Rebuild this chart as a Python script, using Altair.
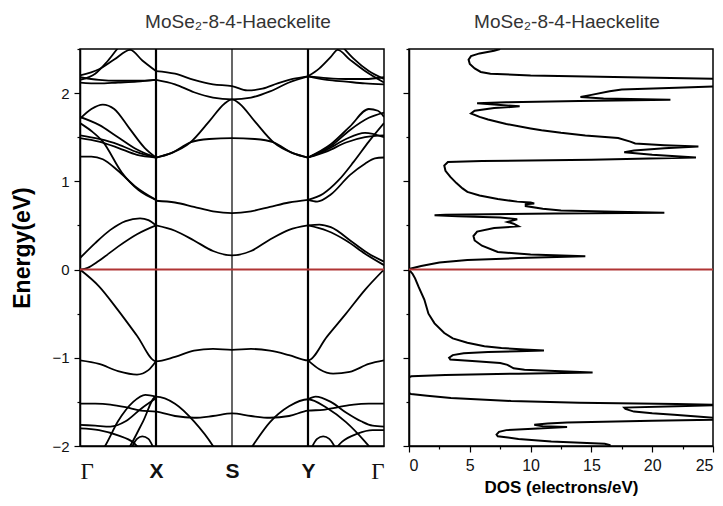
import altair as alt
import pandas as pd

TITLE = "MoSe₂-8-4-Haeckelite"
K_TICKS = [0, 1, 2, 3, 4]
K_NAMES = ["Γ", "X", "S", "Y", "Γ"]
E_TICKS = [-2, -1.5, -1, -0.5, 0, 0.5, 1, 1.5, 2, 2.5]
DOS_TICKS = [0, 2.5, 5, 7.5, 10, 12.5, 15, 17.5, 20, 22.5, 25]
SYM_LINES_K = [1, 2, 3]
SYM_LINES_W = [2.2, 1.2, 2.2]

# ---- bands: (k, E) pairs ----
V1 = [(0, 0.0), (0.25, -0.19), (0.5, -0.46), (0.75, -0.75), (1, -1.04), (1.25, -0.99), (1.5, -0.92),
      (1.75, -0.90), (2, -0.91), (2.25, -0.90), (2.5, -0.92), (2.75, -0.97), (3, -1.03),
      (3.25, -0.76), (3.5, -0.50), (3.75, -0.23), (4, 0.0)]
V2a = [(0, -1.03), (0.25, -1.07), (0.5, -1.15), (0.75, -1.19), (0.9, -1.14), (1, -1.04)]
V2b = [(3, -1.03), (3.15, -1.13), (3.33, -1.18), (3.55, -1.16), (3.8, -1.07), (4, -1.03)]
L1 = [(0, -1.52), (0.2, -1.52), (0.4, -1.53), (0.6, -1.56), (0.8, -1.60), (1, -1.61), (1.25, -1.66),
      (1.5, -1.68), (1.75, -1.66), (2, -1.63), (2.25, -1.66), (2.5, -1.68), (2.75, -1.66), (3, -1.60),
      (3.2, -1.59), (3.4, -1.56), (3.6, -1.53), (3.8, -1.52), (4, -1.52)]
L2 = [(0.2, -2.15), (0.33, -2.0), (0.5, -1.72), (0.7, -1.5), (0.86, -1.42), (1, -1.44)]
L3 = [(0.55, -2.15), (0.66, -2.0), (0.83, -1.72), (1, -1.44), (1.25, -1.52), (1.5, -1.72),
      (1.75, -2.0), (1.85, -2.15)]
L4 = [(0, -1.76), (0.2, -1.77), (0.4, -1.78), (0.6, -1.72), (0.8, -1.58), (1, -1.46)]
L5 = [(0, -1.80), (0.25, -1.82), (0.5, -1.88), (0.7, -1.96), (0.85, -2.1)]
L6 = [(0.66, -2.05), (0.75, -1.92), (0.82, -1.89), (0.9, -1.92), (0.98, -2.05)]
R6 = [(3.03, -2.05), (3.12, -1.92), (3.2, -1.89), (3.28, -1.92), (3.38, -2.05)]
L3r = [(2.15, -2.15), (2.27, -2.0), (2.5, -1.73), (2.75, -1.55), (3, -1.47), (3.25, -1.57),
       (3.5, -1.73), (3.75, -1.95), (3.85, -2.05)]
R2 = [(3, -1.47), (3.1, -1.44), (3.3, -1.50), (3.5, -1.62), (3.7, -1.72), (3.85, -1.77), (4, -1.78)]
R4 = [(3.3, -2.1), (3.45, -1.95), (3.65, -1.86), (3.85, -1.82), (4, -1.82)]
C1a = [(0, 0.0), (0.1, 0.02), (0.25, 0.10), (0.5, 0.26), (0.75, 0.40), (1, 0.50)]
C1b = [(0, 0.13), (0.2, 0.30), (0.4, 0.45), (0.6, 0.55), (0.79, 0.58), (0.9, 0.56), (1, 0.50)]
C1 = [(1, 0.50), (1.25, 0.44), (1.5, 0.33), (1.75, 0.21), (2, 0.16), (2.25, 0.21), (2.5, 0.34),
      (2.75, 0.45), (3, 0.50)]
C1c = [(3, 0.50), (3.25, 0.44), (3.5, 0.33), (3.75, 0.18), (4, 0.05)]
C1d = [(3, 0.50), (3.15, 0.51), (3.3, 0.48), (3.6, 0.30), (3.8, 0.18), (4, 0.09)]
C2 = [(1, 0.78), (1.25, 0.76), (1.5, 0.71), (1.75, 0.66), (2, 0.64), (2.25, 0.66), (2.5, 0.71),
      (2.75, 0.76), (3, 0.79)]
G2 = [(0, 1.66), (0.15, 1.57), (0.3, 1.45), (0.55, 1.10), (0.77, 0.90), (1, 0.79)]
G5 = [(0, 1.28), (0.15, 1.28), (0.3, 1.25), (0.5, 1.12), (0.73, 0.94), (1, 0.79)]
Rb1 = [(3, 0.79), (3.2, 0.86), (3.4, 1.01), (3.6, 1.22), (3.8, 1.45), (4, 1.66)]
Rb2 = [(3, 0.79), (3.12, 0.77), (3.3, 0.85), (3.55, 1.07), (3.75, 1.20), (3.88, 1.26), (4, 1.27)]
G1 = [(0, 1.71), (0.15, 1.82), (0.3, 1.87), (0.45, 1.82), (0.65, 1.6), (0.85, 1.38), (1, 1.27)]
G3 = [(0, 1.52), (0.25, 1.48), (0.5, 1.42), (0.75, 1.33), (1, 1.27)]
G4 = [(0, 1.49), (0.25, 1.45), (0.5, 1.38), (0.75, 1.30), (1, 1.27)]
G6 = [(0, 1.73), (0.25, 1.64), (0.5, 1.50), (0.75, 1.36), (1, 1.27)]
XSYup = [(1, 1.27), (1.2, 1.32), (1.45, 1.44), (1.7, 1.68), (1.9, 1.88), (2, 1.93), (2.1, 1.88),
         (2.3, 1.68), (2.55, 1.44), (2.8, 1.32), (3, 1.27)]
XSYflat = [(1, 1.27), (1.2, 1.32), (1.45, 1.44), (1.7, 1.48), (2, 1.49), (2.3, 1.48), (2.55, 1.44),
           (2.8, 1.32), (3, 1.27)]
Rc1 = [(3, 1.27), (3.25, 1.34), (3.5, 1.44), (3.75, 1.50), (4, 1.52)]
Rc2 = [(3, 1.27), (3.25, 1.36), (3.5, 1.48), (3.75, 1.55), (4, 1.50)]
Rc3 = [(3, 1.27), (3.3, 1.42), (3.55, 1.62), (3.8, 1.82), (3.92, 1.80), (4, 1.73)]
Rc4 = [(3, 1.27), (3.3, 1.40), (3.55, 1.58), (3.8, 1.72), (4, 1.78)]
U1 = [(1, 2.25), (1.25, 2.22), (1.5, 2.15), (1.75, 2.10), (2, 2.08), (2.2, 2.03), (2.4, 2.05),
      (2.6, 2.11), (2.8, 2.16), (3, 2.19)]
U2 = [(1, 2.15), (1.25, 2.10), (1.5, 2.01), (1.75, 1.95), (2, 1.93), (2.25, 1.95), (2.5, 2.02),
      (2.75, 2.12), (3, 2.19)]
T1 = [(0, 2.15), (0.2, 2.22), (0.35, 2.35), (0.49, 2.5), (0.55, 2.56)]
T2 = [(0, 2.20), (0.25, 2.27), (0.45, 2.38), (0.66, 2.49), (0.82, 2.37), (1, 2.25)]
F1 = [(0, 2.18), (0.25, 2.15), (0.5, 2.14), (0.75, 2.14), (1, 2.15)]
F2 = [(0, 2.12), (0.25, 2.11), (0.5, 2.12), (0.75, 2.13), (1, 2.15)]
RT1 = [(3, 2.19), (3.15, 2.28), (3.3, 2.41), (3.39, 2.49), (3.55, 2.38), (3.75, 2.25), (4, 2.12)]
RT2 = [(3.42, 2.56), (3.6, 2.39), (3.8, 2.25), (4, 2.16)]
RF1 = [(3, 2.19), (3.25, 2.15), (3.5, 2.13), (3.75, 2.11), (4, 2.10)]
RF2 = [(3, 2.19), (3.25, 2.17), (3.5, 2.16), (3.75, 2.16), (4, 2.18)]

BANDS = {"V1": V1, "V2a": V2a, "V2b": V2b, "L1": L1, "L2": L2, "L3": L3, "L4": L4, "L5": L5,
         "L6": L6, "R6": R6, "L3r": L3r, "R2": R2, "R4": R4, "C1a": C1a, "C1b": C1b, "C1": C1,
         "C1c": C1c, "C1d": C1d, "C2": C2, "G2": G2, "G5": G5, "Rb1": Rb1, "Rb2": Rb2, "G1": G1,
         "G3": G3, "G4": G4, "G6": G6, "XSYup": XSYup, "XSYflat": XSYflat, "Rc1": Rc1, "Rc2": Rc2,
         "Rc3": Rc3, "Rc4": Rc4, "U1": U1, "U2": U2, "T1": T1, "T2": T2, "F1": F1, "F2": F2,
         "RT1": RT1, "RT2": RT2, "RF1": RF1, "RF2": RF2}

# ---- density of states (E, DOS), top to bottom ----
DOS_E = [2.50, 2.48, 2.45, 2.42, 2.38, 2.33, 2.28, 2.24, 2.22, 2.20, 2.18, 2.16, 2.12, 2.08, 2.06,
         2.04, 2.02, 1.98, 1.955, 1.94, 1.925, 1.91, 1.895, 1.885, 1.87, 1.85, 1.83, 1.80, 1.77,
         1.73, 1.70, 1.65, 1.60, 1.58, 1.55, 1.52, 1.49, 1.45, 1.43, 1.41, 1.395, 1.375, 1.35,
         1.33, 1.30, 1.27, 1.245, 1.23, 1.22, 1.18, 1.12, 1.05, 0.98, 0.92, 0.88, 0.84, 0.80, 0.77,
         0.76, 0.75, 0.74, 0.72, 0.69, 0.67, 0.655, 0.645, 0.635, 0.62, 0.615, 0.605, 0.59, 0.57,
         0.555, 0.54, 0.52, 0.49, 0.47, 0.43, 0.38, 0.33, 0.27, 0.20, 0.17, 0.15, 0.13, 0.107,
         0.08, 0.04, 0.01, 0.0, -0.05, -0.10, -0.20, -0.34, -0.50, -0.61, -0.72, -0.78, -0.83,
         -0.87, -0.89, -0.905, -0.917, -0.925, -0.935, -0.95, -0.97, -1.0, -1.02, -1.04, -1.06,
         -1.08, -1.12, -1.135, -1.15, -1.166, -1.18, -1.195, -1.21, -1.22, -1.40, -1.41, -1.43,
         -1.455, -1.49, -1.51, -1.525, -1.535, -1.55, -1.565, -1.58, -1.61, -1.63, -1.645, -1.665,
         -1.685, -1.70, -1.715, -1.735, -1.745, -1.76, -1.775, -1.785, -1.80, -1.82, -1.84, -1.87,
         -1.89, -1.92, -1.95, -1.975, -1.99, -2.0]
DOS_V = [7.5, 7.0, 5.8, 5.1, 4.9, 5.0, 5.4, 5.9, 6.7, 10.0, 18.0, 26.0, 27.0, 26.0, 22.0,
         17.5, 16.5, 15.0, 14.1, 16.0, 21.5, 14.0, 8.0, 5.6, 7.0, 9.1, 7.0, 5.4, 5.1,
         5.8, 6.5, 8.0, 10.0, 10.9, 12.5, 14.5, 17.2, 18.2, 18.6, 21.0, 23.8, 21.0, 18.5,
         17.7, 20.0, 23.6, 15.0, 6.0, 3.2, 2.9, 3.0, 3.4, 3.9, 4.4, 4.8, 5.8, 7.3, 8.9,
         10.0, 10.3, 9.6, 9.6, 11.0, 12.5, 17.0, 21.0, 12.0, 3.0, 2.1, 4.0, 7.5, 8.9,
         8.5, 8.1, 8.6, 9.0, 7.0, 5.6, 5.3, 5.4, 6.0, 7.3, 10.0, 14.5, 9.0, 4.8,
         2.5, 1.0, 0.1, 0.0, 0.3, 0.5, 0.8, 1.26, 1.6, 2.1, 2.9, 3.6, 4.8,
         6.2, 7.6, 9.5, 11.1, 9.0, 6.5, 4.5, 3.6, 3.3, 3.4, 5.5, 7.5,
         8.1, 8.6, 9.5, 12.0, 15.1, 9.0, 3.0, 0.2, 0.0, 0.0, 0.16, 1.5,
         3.45, 8.4, 14.0, 22.0, 26.0, 22.0, 17.7, 17.8, 18.5, 20.0, 21.8, 23.7,
         25.5, 25.5, 20.0, 13.0, 11.4, 10.3, 11.0, 13.0, 11.0, 8.0, 7.4, 7.2,
         7.3, 9.0, 11.7, 16.1, 16.5, 16.5]

rows = []
for name, pts in BANDS.items():
    for i, (k, e) in enumerate(pts):
        rows.append({"band": name, "k": k, "E": e, "i": i})
band_df = pd.DataFrame(rows)
dos_df = pd.DataFrame({"E": DOS_E, "dos": DOS_V, "i": list(range(len(DOS_E)))})
sym_df = pd.DataFrame({"k": SYM_LINES_K, "w": SYM_LINES_W})
zero_df = pd.DataFrame({"E": [0.0]})

SANS = "Liberation Sans"
RED = "#b03434"
END = "datum.value == 0 || datum.value == 4"

names_js = "[" + ",".join("'" + n + "'" for n in K_NAMES) + "]"

y_left = alt.Y(
    "E:Q",
    scale=alt.Scale(domain=[-2, 2.5], nice=False, zero=False),
    axis=alt.Axis(
        values=E_TICKS,
        labelExpr="datum.value % 1 == 0 ? format(datum.value, 'd') : ''",
        tickSize={"condition": {"test": "datum.value % 1 != 0", "value": 3}, "value": 6},
        title="Energy(eV)", titleFontSize=23, titleFontWeight="bold", titleFont=SANS,
        titlePadding=17, labelFontSize=15, labelPadding=5, labelFont=SANS,
    ),
)
x_k = alt.X(
    "k:Q",
    scale=alt.Scale(domain=[0, 4], nice=False, zero=False),
    axis=alt.Axis(
        values=K_TICKS,
        labelExpr=names_js + "[round(datum.value)]",
        ticks=False, labelPadding=14, labelFlush=True,
        labelFont={"condition": {"test": END, "value": "Liberation Serif"}, "value": SANS},
        labelFontWeight={"condition": {"test": END, "value": "normal"}, "value": "bold"},
        labelFontSize={"condition": {"test": END, "value": 23}, "value": 21},
        title=None,
    ),
)

sym = alt.Chart(sym_df).mark_rule(color="black").encode(
    x=x_k, strokeWidth=alt.StrokeWidth("w:Q", scale=None)
)
bands = alt.Chart(band_df).mark_line(
    color="black", strokeWidth=1.8, clip=True, interpolate="monotone"
).encode(x=x_k, y=y_left, detail="band:N", order="i:Q")
zero_l = alt.Chart(zero_df).mark_rule(color=RED, strokeWidth=2).encode(y=y_left)

title_params = dict(fontSize=19, font=SANS, fontWeight="normal", color="#333", offset=16, dx=6)

left = alt.layer(sym, bands, zero_l).properties(
    width=304, height=397, title=alt.TitleParams(TITLE, **title_params),
)

y_right = alt.Y(
    "E:Q",
    scale=alt.Scale(domain=[-2, 2.5], nice=False, zero=False),
    title=None,
    axis=alt.Axis(
        values=E_TICKS, labels=False,
        tickSize={"condition": {"test": "datum.value % 1 != 0", "value": 3}, "value": 6},
    ),
)
x_dos = alt.X(
    "dos:Q",
    scale=alt.Scale(domain=[0, 25], nice=False, zero=False),
    axis=alt.Axis(
        values=DOS_TICKS,
        labelExpr="datum.value % 5 == 0 ? datum.label : ''",
        tickSize={"condition": {"test": "datum.value % 5 != 0", "value": 3}, "value": 6},
        title="DOS (electrons/eV)", titleFontSize=17, titleFontWeight="bold", titleFont=SANS,
        titlePadding=6, labelFontSize=16, labelPadding=5, labelFont=SANS,
    ),
)
dos_line = alt.Chart(dos_df).mark_line(color="black", strokeWidth=2, clip=True).encode(
    x=x_dos, y=y_right, order="i:Q"
)
zero_r = alt.Chart(zero_df).mark_rule(color=RED, strokeWidth=2).encode(y=y_right)

right = alt.layer(dos_line, zero_r).properties(
    width=304, height=397, title=alt.TitleParams(TITLE, **title_params),
)

chart = alt.hconcat(left, right, spacing=15).properties(
    padding={"left": 11, "top": 12, "right": 2, "bottom": 2},
    background="white",
).configure_view(stroke="black", strokeWidth=1.5).configure_axis(
    grid=False, domainColor="black", domainWidth=1.5, tickColor="black", tickWidth=1.2,
    labelColor="#111",
)

chart.save("out.html", embed_options={"renderer": "svg", "actions": False})
